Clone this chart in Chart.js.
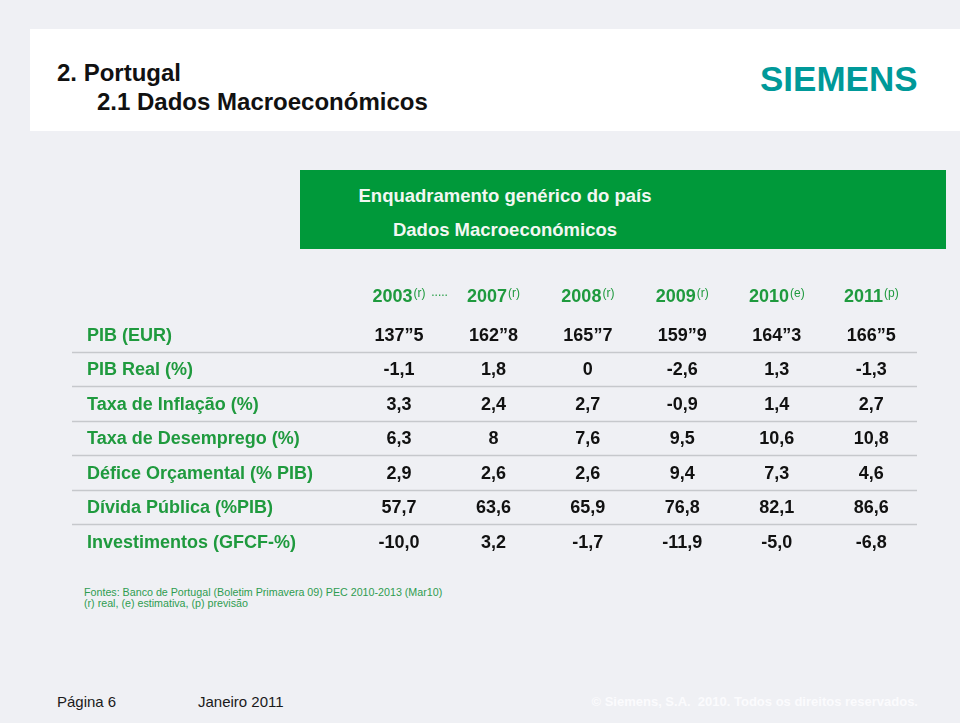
<!DOCTYPE html>
<html>
<head>
<meta charset="utf-8">
<script src="https://cdn.jsdelivr.net/npm/chart.js"></script>
<style>
  html, body { margin: 0; padding: 0; }
  body { width: 960px; height: 723px; overflow: hidden; position: relative; background: #eff0f4;
         font-family: "Liberation Sans", Arial, sans-serif; }
  .t { position: absolute; white-space: pre; }
  #chart { position: absolute; left: 0; top: 0; }
</style>
</head>
<body>
<div class="t" style="left:30px;top:29px;width:930px;height:102px;background:#ffffff;"></div>
<div class="t" style="left:57px;top:60.7px;font-size:24px;line-height:24px;font-weight:bold;color:#111;">2. Portugal</div>
<div class="t" style="left:97px;top:89.7px;font-size:24px;line-height:24px;font-weight:bold;color:#111;">2.1 Dados Macroeconómicos</div>
<div class="t" style="left:760px;top:61.4px;font-size:35px;line-height:35px;font-weight:bold;color:#009999;">SIEMENS</div>

<div class="t" style="left:300px;top:170px;width:646px;height:79px;background:#00993a;"></div>
<div class="t" style="left:300px;top:186.6px;width:410px;text-align:center;font-size:18.5px;line-height:18.5px;font-weight:bold;color:#f2f7f2;">Enquadramento genérico do país</div>
<div class="t" style="left:300px;top:221px;width:410px;text-align:center;font-size:18.5px;line-height:18.5px;font-weight:bold;color:#f2f7f2;">Dados Macroeconómicos</div>

<div class="t" style="left:84px;top:587px;font-size:10.7px;line-height:10.7px;color:#2e9c50;">Fontes: Banco de Portugal (Boletim Primavera 09) PEC 2010-2013 (Mar10)</div>
<div class="t" style="left:84px;top:598px;font-size:10.7px;line-height:10.7px;color:#2e9c50;">(r) real, (e) estimativa, (p) previsão</div>

<div class="t" style="left:57px;top:694.3px;font-size:15px;line-height:15px;color:#1a1a1a;">Página 6</div>
<div class="t" style="left:198px;top:694.3px;font-size:15px;line-height:15px;color:#1a1a1a;">Janeiro 2011</div>
<div class="t" style="right:42px;top:695px;font-size:13px;line-height:13px;font-weight:bold;color:#fbfbfd;">© Siemens, S.A.  2010. Todos os direitos reservados.</div>

<canvas id="chart" width="960" height="723"></canvas>

<script>
// ---- data ----
const indicadores = ['PIB (EUR)', 'PIB Real (%)', 'Taxa de Inflação (%)', 'Taxa de Desemprego (%)',
                     'Défice Orçamental (% PIB)', 'Dívida Pública (%PIB)', 'Investimentos (GFCF-%)'];
const anos = ['2003', '2007', '2008', '2009', '2010', '2011'];
const notasAnos = ['(r)', '(r)', '(r)', '(r)', '(e)', '(p)'];
const pibEur = [137.5, 162.8, 165.7, 159.9, 164.3, 166.5];
const pibReal = [-1.1, 1.8, 0, -2.6, 1.3, -1.3];
const inflacao = [3.3, 2.4, 2.7, -0.9, 1.4, 2.7];
const desemprego = [6.3, 8, 7.6, 9.5, 10.6, 10.8];
const defice = [2.9, 2.6, 2.6, 9.4, 7.3, 4.6];
const divida = [57.7, 63.6, 65.9, 76.8, 82.1, 86.6];
const investimentos = [-10.0, 3.2, -1.7, -11.9, -5.0, -6.8];
const formatos = ['milhar', 'auto', 'auto', 'auto', 'auto', 'auto', 'fixo'];

const series = [pibEur, pibReal, inflacao, desemprego, defice, divida, investimentos];

function fmt(v, f) {
  if (f === 'milhar') { const p = v.toFixed(1).split('.'); return p[0] + '\u201D' + p[1]; }
  if (f === 'fixo') return v.toFixed(1).replace('.', ',');
  return String(v).replace('.', ',');
}

const FONT = '"Liberation Sans", Arial, sans-serif';
const GREEN = '#1f9a3e';

const tablePlugin = {
  id: 'tablePlugin',
  afterDraw(chart) {
    const ctx = chart.ctx;
    const xs = chart.scales.x, ys = chart.scales.y;
    ctx.save();
    // separator lines between rows
    ctx.strokeStyle = '#c6c8cc';
    ctx.lineWidth = 1.5;
    for (let j = 0; j < indicadores.length - 1; j++) {
      const yy = Math.round((ys.getPixelForValue(j) + ys.getPixelForValue(j + 1)) / 2) + 0.5;
      ctx.beginPath(); ctx.moveTo(72, yy); ctx.lineTo(917, yy); ctx.stroke();
    }
    // column headers
    const hb = chart.chartArea.top - 15;
    anos.forEach((a, i) => {
      const cx = xs.getPixelForValue(i);
      ctx.font = 'bold 18px ' + FONT;
      const w1 = ctx.measureText(a).width;
      ctx.font = '12px ' + FONT;
      const w2 = ctx.measureText(notasAnos[i]).width;
      const start = cx - (w1 + 1 + w2) / 2;
      ctx.fillStyle = GREEN;
      ctx.textAlign = 'left';
      ctx.textBaseline = 'alphabetic';
      ctx.font = 'bold 18px ' + FONT;
      ctx.fillText(a, start, hb);
      ctx.font = '12px ' + FONT;
      ctx.fillText(notasAnos[i], start + w1 + 1, hb - 5);
    });
    // dots between first two headers
    ctx.font = '12px ' + FONT;
    ctx.fillStyle = GREEN;
    ctx.textAlign = 'center';
    const dx = xs.getPixelForValue(0) + (xs.getPixelForValue(1) - xs.getPixelForValue(0)) * 0.43;
    ctx.fillText('.....', dx, hb - 6);
    // row labels
    ctx.font = 'bold 18px ' + FONT;
    ctx.textAlign = 'left';
    indicadores.forEach((lab, j) => {
      ctx.fillStyle = GREEN;
      ctx.fillText(lab, 87, ys.getPixelForValue(j) + 6.5);
    });
    // cell values at element positions
    ctx.fillStyle = '#111111';
    ctx.textAlign = 'center';
    chart.data.datasets.forEach((ds, di) => {
      const meta = chart.getDatasetMeta(di);
      meta.data.forEach((el, k) => {
        ctx.fillText(fmt(ds.valores[k], ds.formato), el.x, el.y + 6.5);
      });
    });
    ctx.restore();
  }
};

new Chart(document.getElementById('chart'), {
  type: 'line',
  data: {
    datasets: indicadores.map((lab, j) => ({
      label: lab,
      valores: series[j],
      formato: formatos[j],
      data: series[j].map((v, i) => ({ x: anos[i], y: lab })),
      showLine: false,
      pointRadius: 0,
      pointHoverRadius: 0
    }))
  },
  options: {
    responsive: false,
    devicePixelRatio: 1,
    animation: false,
    events: [],
    layout: { padding: { left: 351.7, right: 41.5, top: 317.15, bottom: 164.35 } },
    plugins: { legend: { display: false }, tooltip: { enabled: false }, title: { display: false } },
    scales: {
      x: { type: 'category', labels: anos, offset: true, display: false },
      y: { type: 'category', labels: indicadores, offset: true, display: false }
    }
  },
  plugins: [tablePlugin]
});
</script>
</body>
</html>
